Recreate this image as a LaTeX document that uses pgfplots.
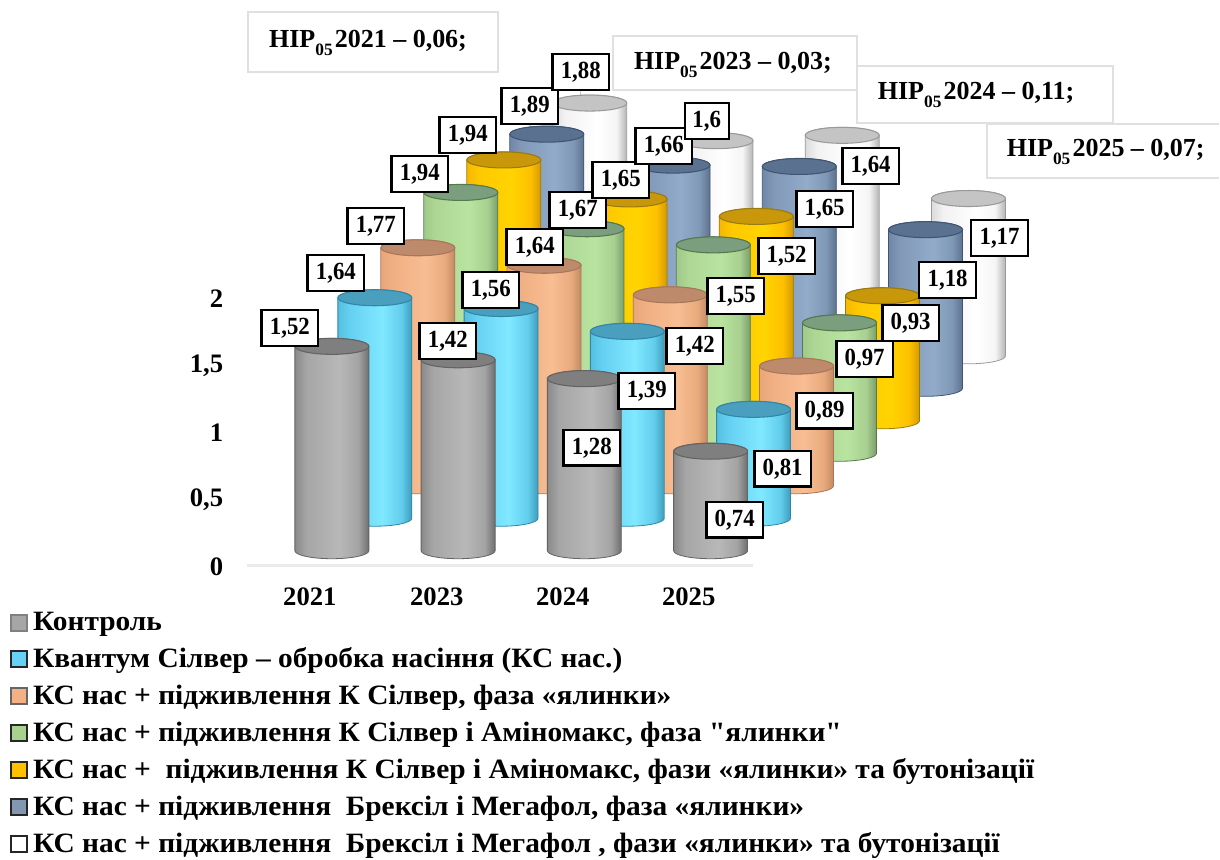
\documentclass[border=0pt]{standalone}
\usepackage{fontspec}
\setmainfont{Liberation Serif}
\newfontfamily\lblfont[FakeStretch=0.925]{Liberation Serif}
\newfontfamily\legfont[FakeStretch=1.05]{Liberation Serif}
\usepackage{pgfplots}
\usepackage{pgfplotstable}
\pgfplotsset{compat=1.18}

% Horizontal body shading, top cap and plot mark of one cylinder series.
% #1 name, #2-#6 body stops from left to right, #7 outline, #8 cap fill
\newcommand\defseries[8]{%
  \definecolor{a#1}{HTML}{#2}\definecolor{b#1}{HTML}{#3}\definecolor{c#1}{HTML}{#4}%
  \definecolor{d#1}{HTML}{#5}\definecolor{e#1}{HTML}{#6}%
  \definecolor{line#1}{HTML}{#7}\definecolor{cap#1}{HTML}{#8}%
  \pgfdeclarehorizontalshading{shade#1}{100bp}{%
    color(0bp)=(a#1);color(25bp)=(a#1);color(33bp)=(b#1);color(55bp)=(c#1);%
    color(68bp)=(d#1);color(75bp)=(e#1);color(100bp)=(e#1)}%
  \pgfdeclareplotmark{cyl#1}{%
    \path[shading=shade#1,draw=line#1,line width=.6pt,cm={1,0.065,0,1,(0,0)}]
      (-27.75pt,0pt) -- (-27.75pt,-\h pt)
      arc[start angle=180,end angle=360,x radius=27.75pt,y radius=6pt]
      -- (27.75pt,0pt)
      arc[start angle=0,end angle=180,x radius=27.75pt,y radius=6pt] -- cycle;
    \path[fill=cap#1,draw=line#1,line width=.8pt,cm={1,0.065,0,1,(0,0)}]
      (0pt,0pt) ellipse[x radius=27.75pt,y radius=6pt];
  }%
}
\defseries{grey}{8A8A8A}{A6A6A6}{B8B8B8}{A3A3A3}{6E6E6E}{636363}{7F7F7F}
\defseries{cyan}{55BFE0}{66D0F2}{80E8FF}{62CDEC}{3F9CBC}{2F86A6}{4A9FBE}
\defseries{orange}{E8A67A}{F0AF82}{F8BD92}{E9AB7E}{C48A62}{A8765A}{BD8A6C}
\defseries{green}{A0C88A}{AED694}{B8E4A0}{A8D090}{7B9E6A}{55784F}{7B9F7E}
\defseries{yellow}{F5B800}{FFC800}{FFD400}{FDC000}{D49A00}{9C7A10}{C8980A}
\defseries{navy}{7088A8}{8299B8}{92ABCA}{7F98B5}{5D7290}{3F5572}{5B7190}
\defseries{white}{DCDCDC}{F2F2F2}{FFFFFF}{F5F5F5}{B4B4B4}{9A9A9A}{C4C4C4}

\definecolor{kgrey}{HTML}{A6A6A6}
\definecolor{kcyan}{HTML}{66D0F5}
\definecolor{korange}{HTML}{F4B183}
\definecolor{kgreen}{HTML}{A9D18E}
\definecolor{kyellow}{HTML}{FFC000}
\definecolor{knavy}{HTML}{8497B0}

% i: year position, v: value, lx/ly: label centre, w: label box width
\pgfplotstableread{
i v    lx  ly  w    lbl
0 1.52 290 328 42.5 1,52
1 1.42 448 341 42.5 1,42
2 1.28 592 448 42.5 1,28
3 0.74 735 520 42.5 0,74
}\tgrey
\pgfplotstableread{
i v    lx  ly  w    lbl
0 1.64 336 273 42.5 1,64
1 1.56 491 290 42.5 1,56
2 1.39 647 391 42.5 1,39
3 0.81 783 469 42.5 0,81
}\tcyan
\pgfplotstableread{
i v    lx  ly  w    lbl
0 1.77 376 226 42.5 1,77
1 1.64 535 247 42.5 1,64
2 1.42 695 346 42.5 1,42
3 0.89 825 411 42.5 0,89
}\torange
\pgfplotstableread{
i v    lx  ly  w    lbl
0 1.94 420 174 42.5 1,94
1 1.67 578 210 42.5 1,67
2 1.55 736 296 42.5 1,55
3 0.97 865 359 42.5 0,97
}\tgreen
\pgfplotstableread{
i v    lx  ly  w    lbl
0 1.94 468 135 42.5 1,94
1 1.65 621 180 42.5 1,65
2 1.52 787 256 42.5 1,52
3 0.93 911 323 42.5 0,93
}\tyellow
\pgfplotstableread{
i v    lx  ly  w    lbl
0 1.89 530 106 42.5 1,89
1 1.66 664 146 42.5 1,66
2 1.65 825 209 42.5 1,65
3 1.18 948 280 42.5 1,18
}\tnavy
\pgfplotstableread{
i v    lx  ly  w    lbl
0 1.88 581 72  42.5 1,88
1 1.60 707 121 33   1,6
2 1.64 871 166 42.5 1,64
3 1.17 1000 238 42.5 1,17
}\twhite

% One row of cylinders; #3 is its position in depth
\newcommand\cylinders[3]{%
  \addplot[forget plot,scatter,only marks,mark=cyl#1,
    visualization depends on={\thisrow{v}*100.875 \as \h}]
    table[x expr={332+126.3*\thisrow{i}+43*#3},
          y expr={\thisrow{v}+0.112+0.2416*#3}] {#2};
}
% Value labels of one row
\newcommand\valuelabels[1]{%
  \addplot[forget plot,draw=none,mark=none,point meta=explicit symbolic,
    nodes near coords,
    visualization depends on={\thisrow{w} \as \bw},
    every node near coord/.style={anchor=center,fill=white,draw=black,
      line width=1.8pt,inner sep=0pt,minimum height=26.8pt,minimum width=\bw pt,
      font=\lblfont\fontsize{18.5}{20}\selectfont\bfseries}]
    table[x=lx,y expr={(566-\thisrow{ly})/134.5},meta=lbl] {#1};
}
\newcommand\px[2]{(axis cs:#1,{(566-#2)/134.5})}
% Annotation with the least significant difference of one year
\newcommand\nir[2]{\node[anchor=base west,font=\fontsize{19.5}{22}\selectfont\bfseries,inner sep=0pt] at #1
  {НІР\raisebox{-5.5pt}{\fontsize{13}{14}\selectfont 05}\kern1.6pt #2};}
\newcommand\legsq[2]{\addlegendimage{legend image code/.code={%
  \path[fill=#1,draw=#2,line width=1.6pt] (-21.3pt,-6.2pt) rectangle (-9.3pt,5.8pt);
  \path (-7pt,0pt);}}}

\begin{document}
\begin{tikzpicture}
\begin{axis}[
  scale only axis,width=915pt,height=645pt,
  xmin=0,xmax=1220,ymin=-2.18587,ymax=4.20818,
  clip=false,
  axis line style={draw=none},tick style={draw=none},
  xtick={310,437,563,689},xticklabels={2021,2023,2024,2025},
  ytick={0,0.5,1,1.5,2},
  yticklabel style={/pgf/number format/use comma,/pgf/number format/assume math mode=true,
    anchor=east,xshift=171pt,yshift=-1pt,font=\fontsize{20}{22}\selectfont\bfseries},
  xticklabel style={anchor=center,yshift=197pt,font=\fontsize{20}{22}\selectfont\bfseries},
  legend style={at={(axis cs:10,-2.17)},anchor=south west,draw=none,fill=none,
    inner sep=0pt,outer sep=0pt,row sep=7.5pt,cells={anchor=west},
    font=\legfont\fontsize{21}{24}\selectfont\bfseries},
  legend cell align=left,
]
\legsq{kgrey}{gray}
\legsq{kcyan}{black!85}
\legsq{korange}{black!60}
\legsq{kgreen}{black!85}
\legsq{kyellow}{black!85}
\legsq{knavy}{black!85}
\legsq{white}{black!85}
\legend{Контроль,
  Квантум Сілвер – обробка насіння (КС нас.),
  {КС нас + підживлення К Сілвер, фаза «ялинки»},
  {КС нас + підживлення К Сілвер і Аміномакс, фаза \symbol{34}ялинки\symbol{34}},
  {КС нас +~ підживлення К Сілвер і Аміномакс, фази «ялинки» та бутонізації},
  {КС нас + підживлення~ Брексіл і Мегафол, фаза «ялинки»},
  {КС нас + підживлення~ Брексіл і Мегафол , фази «ялинки» та бутонізації}}

% floor line
\addplot[forget plot,draw=black!8,line width=2.2pt] coordinates {(247,0) (753,0)};

\cylinders{white}{\twhite}{6}
\cylinders{navy}{\tnavy}{5}
\cylinders{yellow}{\tyellow}{4}
\cylinders{green}{\tgreen}{3}
\cylinders{orange}{\torange}{2}
\cylinders{cyan}{\tcyan}{1}
\cylinders{grey}{\tgrey}{0}

% leader lines
\draw[black!22,line width=.9pt] \px{581}{90} -- \px{581}{110};
\draw[black!22,line width=.9pt] \px{530}{125} -- \px{537}{140};
\draw[black!22,line width=.9pt] \px{473}{155} -- \px{494}{167};
\draw[black!22,line width=.9pt] \px{343}{294} -- \px{365}{305};

% annotation frames
\path[draw=black!12,line width=1.5pt,fill=white] \px{248}{12} rectangle \px{498}{72};
\path[draw=black!12,line width=1.5pt,fill=white] \px{613}{36} rectangle \px{857}{90};
\path[draw=black!12,line width=1.5pt,fill=white] \px{857}{66} rectangle \px{1113}{123};
\path[draw=black!12,line width=1.5pt] \px{1219.5}{124} -- \px{987}{124} -- \px{987}{178} -- \px{1219.5}{178};
\nir{\px{269}{48}}{2021 – 0,06;}
\nir{\px{634}{70}}{2023 – 0,03;}
\nir{\px{878}{100}}{2024 – 0,11;}
\nir{\px{1007}{157}}{2025 – 0,07;}

\valuelabels{\tgrey}
\valuelabels{\tcyan}
\valuelabels{\torange}
\valuelabels{\tgreen}
\valuelabels{\tyellow}
\valuelabels{\tnavy}
\valuelabels{\twhite}
\end{axis}
\end{tikzpicture}
\end{document}
